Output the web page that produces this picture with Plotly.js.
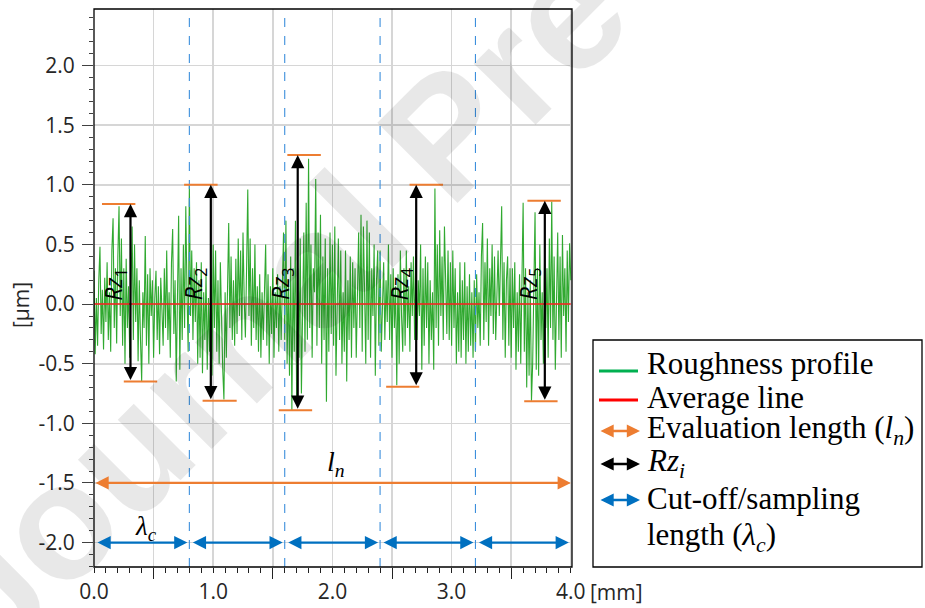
<!DOCTYPE html>
<html>
<head>
<meta charset="utf-8">
<script src="https://cdn.plot.ly/plotly-3.0.1.min.js"></script>
<style>html,body{margin:0;padding:0;background:#fff;}#chart{width:925px;height:608px;}</style>
</head>
<body>
<div id="chart"></div>
<script>
// ---------- data ----------
const profileStart = 0.0;      // mm
const profileStep = 0.01;      // mm between samples
const profile = [
 0.28,-0.42,0.05,-0.35,0.2,0.48,-0.25,0.12,-0.38,0.22,
 -0.15,0.35,-0.3,0.1,-0.4,0.45,0.72,-0.2,0.3,-0.33,
 0.4,0.82,-0.1,0.55,-0.35,0.3,-0.5,0.38,-0.2,0.15,
 -0.45,0.25,0.65,-0.3,0.5,-0.15,0.3,-0.48,0.2,-0.3,
 -0.65,0.1,-0.2,0.57,-0.35,0.25,-0.5,0.3,-0.1,0.2,
 -0.45,0.05,0.28,-0.3,0.15,-0.42,0.22,-0.05,-0.35,0.3,
 -0.2,0.45,-0.3,0.1,-0.45,0.35,0.63,-0.25,0.2,-0.65,
 0.2,0.74,-0.55,0.3,-0.3,0.5,-0.2,0.82,0.1,-0.4,
 1.0,-0.1,0.45,-0.3,0.3,-0.15,0.35,-0.5,0.2,-0.45,
 0.35,-0.58,0.1,-0.3,0.25,-0.55,0.05,-0.4,0.3,-0.6,
 0.5,-0.2,0.45,-0.4,0.2,-0.5,0.35,-0.3,-0.55,-0.8,
 0.1,-0.45,0.3,0.68,-0.2,0.4,-0.3,0.2,-0.35,0.38,
 -0.25,0.55,-0.1,0.45,-0.3,0.6,0.05,-0.28,0.3,0.96,
 -0.1,0.55,-0.35,0.3,-0.2,0.5,-0.3,0.15,-0.4,0.25,
 -0.45,0.1,-0.3,0.2,0.5,-0.35,0.25,-0.5,0.15,-0.25,
 0.3,-0.45,0.1,-0.2,0.25,-0.4,0.15,-0.3,0.2,0.6,
 -0.3,0.7,-0.5,0.2,-0.6,0.4,-0.89,0.3,-0.4,0.7,
 -0.8,0.3,-0.45,0.55,-0.75,0.2,0.6,-0.4,0.85,-0.3,
 1.22,-0.2,0.5,-0.45,0.3,0.1,1.05,-0.35,0.6,-0.2,
 0.75,-0.5,0.4,-0.3,0.55,-0.82,0.3,-0.4,0.6,-0.25,
 0.5,-0.35,0.65,-0.6,0.2,0.55,-0.3,0.45,-0.5,0.1,
 -0.4,0.45,-0.65,0.2,-0.3,0.4,-0.45,0.35,-0.2,0.3,
 -0.45,0.25,0.6,-0.2,0.75,-0.4,0.65,0.1,-0.5,0.7,
 -0.3,0.6,-0.45,0.3,-0.1,0.5,-0.6,0.2,0.45,-0.35,
 0.45,-0.4,0.1,0.35,-0.3,0.2,-0.15,0.5,-0.3,0.25,
 -0.45,0.3,-0.2,0.15,-0.68,0.25,-0.5,0.45,-0.1,-0.4,
 0.3,-0.35,0.45,-0.2,0.15,-0.4,0.35,-0.1,0.4,-0.3,
 0.45,-0.3,0.2,-0.1,0.5,-0.55,0.3,-0.35,0.4,-0.2,
 0.35,-0.5,0.2,-0.3,0.1,-0.55,0.97,-0.2,0.5,-0.35,
 0.62,-0.1,0.4,-0.3,0.65,0.05,-0.25,0.45,-0.3,0.35,
 -0.35,0.45,-0.2,0.3,-0.5,0.1,-0.4,0.35,-0.45,0.2,
 -0.3,0.35,-0.5,0.15,-0.4,0.25,-0.35,0.1,-0.45,0.2,
 -0.4,0.25,-0.2,0.1,-0.35,0.4,0.68,-0.3,0.35,-0.15,
 0.55,-0.35,0.3,-0.1,0.5,-0.25,0.4,-0.3,0.15,0.45,
 -0.1,0.5,0.82,-0.3,0.35,-0.45,0.2,0.4,-0.35,0.3,
 -0.45,0.3,-0.2,0.35,-0.55,0.1,-0.4,0.25,-0.5,0.2,
 0.85,-0.4,0.3,-0.7,0.1,-0.6,0.2,-0.81,-0.5,0.15,
 0.77,-0.55,0.3,-0.6,0.5,-0.3,0.1,-0.5,0.4,-0.2,
 0.3,-0.45,0.55,-0.2,0.86,-0.3,0.4,-0.55,0.2,0.6,
 -0.3,0.4,-0.45,0.58,-0.1,0.3,-0.4,0.45,-0.15,0.51,
 0.2
];
const averageX = [0, 4.0];
const averageY = [0, 0];

// Rz_i markers (x of arrow, peak and valley levels, cap extents)
const rzX      = [0.306, 0.98, 1.709, 2.703, 3.782];
const rzTop    = [0.84, 1.0, 1.25, 1.0, 0.867];
const rzBottom = [-0.65, -0.81, -0.89, -0.694, -0.814];
const capTopX0 = [0.067, 0.756, 1.622, 2.647, 3.636];
const capTopX1 = [0.347, 1.037, 1.903, 2.928, 3.916];
const capBotX0 = [0.25, 0.911, 1.55, 2.451, 3.609];
const capBotX1 = [0.53, 1.197, 1.83, 2.729, 3.889];
const rzIndex  = ['1','2','3','4','5'];

// sampling lengths and evaluation length
const cutoffBounds = [0, 0.8, 1.6, 2.4, 3.2, 4.0];
const cutoffLevel = -2.0;
const evalStart = 0, evalEnd = 4.0, evalLevel = -1.5;

// axis ticks
const xTickVals = [0,0.5,1,1.5,2,2.5,3,3.5,4];
const xTickText = ['0.0','','1.0','','2.0','','3.0','','4.0'];
const xLongTicks = [0.5,1.5,2.5,3.5];
const yTickVals = [-2,-1.5,-1,-0.5,0,0.5,1,1.5,2];
const yTickText = ['-2.0','-1.5','-1.0','-0.5','0.0','0.5','1.0','1.5','2.0'];

// legend texts
const legendTexts = ['Roughness profile','Average line','Evaluation length (<i>l<sub>n</sub></i>)','<i>Rz<sub>i</sub></i>','Cut-off/sampling','length (<i>λ<sub>c</sub></i>)'];

// ---------- styling / layout ----------
const W = 925, H = 608, ML = 94, MR = 353, MT = 9, MB = 41;
const PW = W - ML - MR, PH = H - MT - MB;
const px = v => (v - ML) / PW;
const py = v => (H - MB - v) / PH;

const GREEN = 'rgba(25,160,25,0.9)', RED = '#ff2020', ORANGE = '#ed7d31', BLUE = '#0070c0', LBLUE = '#3d8fdc';
const serif = 'Liberation Serif, Times New Roman, serif';
const sans = 'Open Sans, Noto Sans, sans-serif';

const traces = [
  {type:'scatter', mode:'lines', x0: profileStart, dx: profileStep, y: profile,
   line:{color: GREEN, width: 1.1}, hoverinfo:'skip', xaxis:'x', yaxis:'y'},
  {type:'scatter', mode:'lines', x: averageX, y: averageY,
   line:{color: RED, width: 1.5}, hoverinfo:'skip', xaxis:'x2', yaxis:'y'}
];

const shapes = [];
const annotations = [];

// watermark (faint)
annotations.push({xref:'paper', yref:'paper', x: px(445), y: py(135), xanchor:'center', yanchor:'middle',
  text:'<b>Journal Pre-proof</b>', textangle:-45, showarrow:false,
  font:{family:'Liberation Sans, Arial, sans-serif', size:165, color:'rgba(0,0,0,0.09)'}});

// cut-off dashed verticals
cutoffBounds.slice(1, -1).forEach(b => {
  shapes.push({type:'line', xref:'x', yref:'paper', x0:b, x1:b, y0:0, y1:1,
    line:{color: LBLUE, width:1.1, dash:'dash'}});
});
// caps, Rz arrows and labels
for (let i = 0; i < rzX.length; i++) {
  shapes.push({type:'line', xref:'x', yref:'y', x0:capTopX0[i], x1:capTopX1[i], y0:rzTop[i], y1:rzTop[i], line:{color:ORANGE, width:2}});
  shapes.push({type:'line', xref:'x', yref:'y', x0:capBotX0[i], x1:capBotX1[i], y0:rzBottom[i], y1:rzBottom[i], line:{color:ORANGE, width:2}});
  annotations.push({xref:'x', yref:'y', axref:'x', ayref:'y', x: rzX[i], y: rzTop[i], ax: rzX[i], ay: rzBottom[i],
    text:'', showarrow:true, arrowside:'end+start', arrowhead:2, arrowsize:1.2, arrowwidth:2.2, arrowcolor:'#000', standoff:0, startstandoff:0});
  annotations.push({xref:'x', yref:'y', x: rzX[i] - 0.13, y: 0.17, xanchor:'center', yanchor:'middle',
    text:'<i>Rz</i><sub>' + rzIndex[i] + '</sub>',
    textangle:-90, showarrow:false, font:{family: sans, size:23, color:'#000'}});
}
// cut-off arrows
for (let i = 0; i < cutoffBounds.length - 1; i++) {
  annotations.push({xref:'x', yref:'y', axref:'x', ayref:'y', x: cutoffBounds[i+1], y: cutoffLevel, ax: cutoffBounds[i], ay: cutoffLevel,
    text:'', showarrow:true, arrowside:'end+start', arrowhead:2, arrowsize:1.2, arrowwidth:2.2, arrowcolor:BLUE, standoff:2, startstandoff:2});
}
// evaluation arrow
annotations.push({xref:'x', yref:'y', axref:'x', ayref:'y', x: evalEnd, y: evalLevel, ax: evalStart, ay: evalLevel,
  text:'', showarrow:true, arrowside:'end+start', arrowhead:2, arrowsize:1.2, arrowwidth:2.2, arrowcolor:ORANGE, standoff:0, startstandoff:0});
annotations.push({xref:'x', yref:'y', x: 0.44, y: cutoffLevel + 0.12, xanchor:'center', yanchor:'middle',
  text:'<i>λ<sub>c</sub></i>', showarrow:false, font:{family:serif, size:27, color:'#000'}});
annotations.push({xref:'x', yref:'y', x: 2.03, y: evalLevel + 0.16, xanchor:'center', yanchor:'middle',
  text:'<i>l<sub>n</sub></i>', showarrow:false, font:{family:serif, size:28, color:'#000'}});

// axis titles
annotations.push({xref:'paper', yref:'paper', x: px(21), y: py(305), xanchor:'center', yanchor:'middle',
  text:'[µm]', textangle:-90, showarrow:false, font:{family:sans, size:21, color:'#262626'}});
annotations.push({xref:'paper', yref:'paper', x: px(588), y: py(592), xanchor:'left', yanchor:'middle',
  text:'[mm]', showarrow:false, font:{family:sans, size:21, color:'#262626'}});

// frame
shapes.push({type:'rect', xref:'paper', yref:'paper', x0:0, x1:1, y0:0, y1:1, line:{color:'#000', width:1.3}});

// legend
shapes.push({type:'rect', xref:'paper', yref:'paper', x0:px(593), x1:px(922), y0:py(567), y1:py(340), line:{color:'#000', width:1.3}, fillcolor:'rgba(0,0,0,0)'});
const rowY = [363, 397, 430, 463, 498, 537];
legendTexts.forEach((t, i) => {
  annotations.push({xref:'paper', yref:'paper', x: px(645), y: py(rowY[i]), xanchor:'left', yanchor:'middle', text:t, showarrow:false,
    font:{family:serif, size:31, color:'#000'}});
});
shapes.push({type:'line', xref:'paper', yref:'paper', x0:px(599), x1:px(638), y0:py(371), y1:py(371), line:{color:'#00b050', width:3}});
shapes.push({type:'line', xref:'paper', yref:'paper', x0:px(599), x1:px(638), y0:py(400), y1:py(400), line:{color:'#ff0000', width:3}});
[[431, ORANGE],[464, '#000'],[500, BLUE]].forEach(([yy, c]) => {
  annotations.push({xref:'paper', yref:'paper', x: px(640), y: py(yy), axref:'pixel', ayref:'pixel', ax:-41, ay:0,
    text:'', showarrow:true, arrowside:'end+start', arrowhead:2, arrowsize:1.1, arrowwidth:2.4, arrowcolor:c, standoff:0, startstandoff:0});
});

const tickFont = {family: sans, size:21, color:'#262626'};
const layout = {
  width: W, height: H,
  margin: {l: ML, r: MR, t: MT, b: MB, pad: 0},
  paper_bgcolor:'#fff', plot_bgcolor:'#fff',
  showlegend:false,
  xaxis: {range:[0, 4.01], tickmode:'array', tickvals:xTickVals, ticktext:xTickText, ticks:'outside', ticklen:5, tickwidth:1, tickcolor:'#222',
    showgrid:true, gridcolor:'#d6d6d6', gridwidth:1.6, zeroline:false, showline:false, tickfont:tickFont, ticklabelstandoff:1,
    minor:{tickmode:'linear', tick0:0, dtick:0.1, ticks:'outside', ticklen:5, tickwidth:1, tickcolor:'#222', showgrid:false}},
  xaxis2: {overlaying:'x', anchor:'y', side:'bottom', range:[0, 4.01], tickmode:'array', tickvals:xLongTicks, showticklabels:false,
    ticks:'outside', ticklen:11, tickwidth:1, tickcolor:'#222', showgrid:false, zeroline:false, showline:false},
  yaxis: {range:[-2.205, 2.475], tickmode:'array', tickvals:yTickVals, ticktext:yTickText, ticks:'outside', ticklen:11, tickwidth:1, tickcolor:'#404040',
    showgrid:true, gridcolor:'#d6d6d6', gridwidth:1.6, zeroline:false, showline:false, tickfont:tickFont, ticklabelstandoff:3,
    minor:{tickmode:'linear', tick0:0, dtick:0.1, ticks:'outside', ticklen:4.5, tickwidth:1, tickcolor:'#404040', showgrid:false}},
  shapes: shapes,
  annotations: annotations
};

Plotly.newPlot('chart', traces, layout, {staticPlot:true, displayModeBar:false});
</script>
</body>
</html>
